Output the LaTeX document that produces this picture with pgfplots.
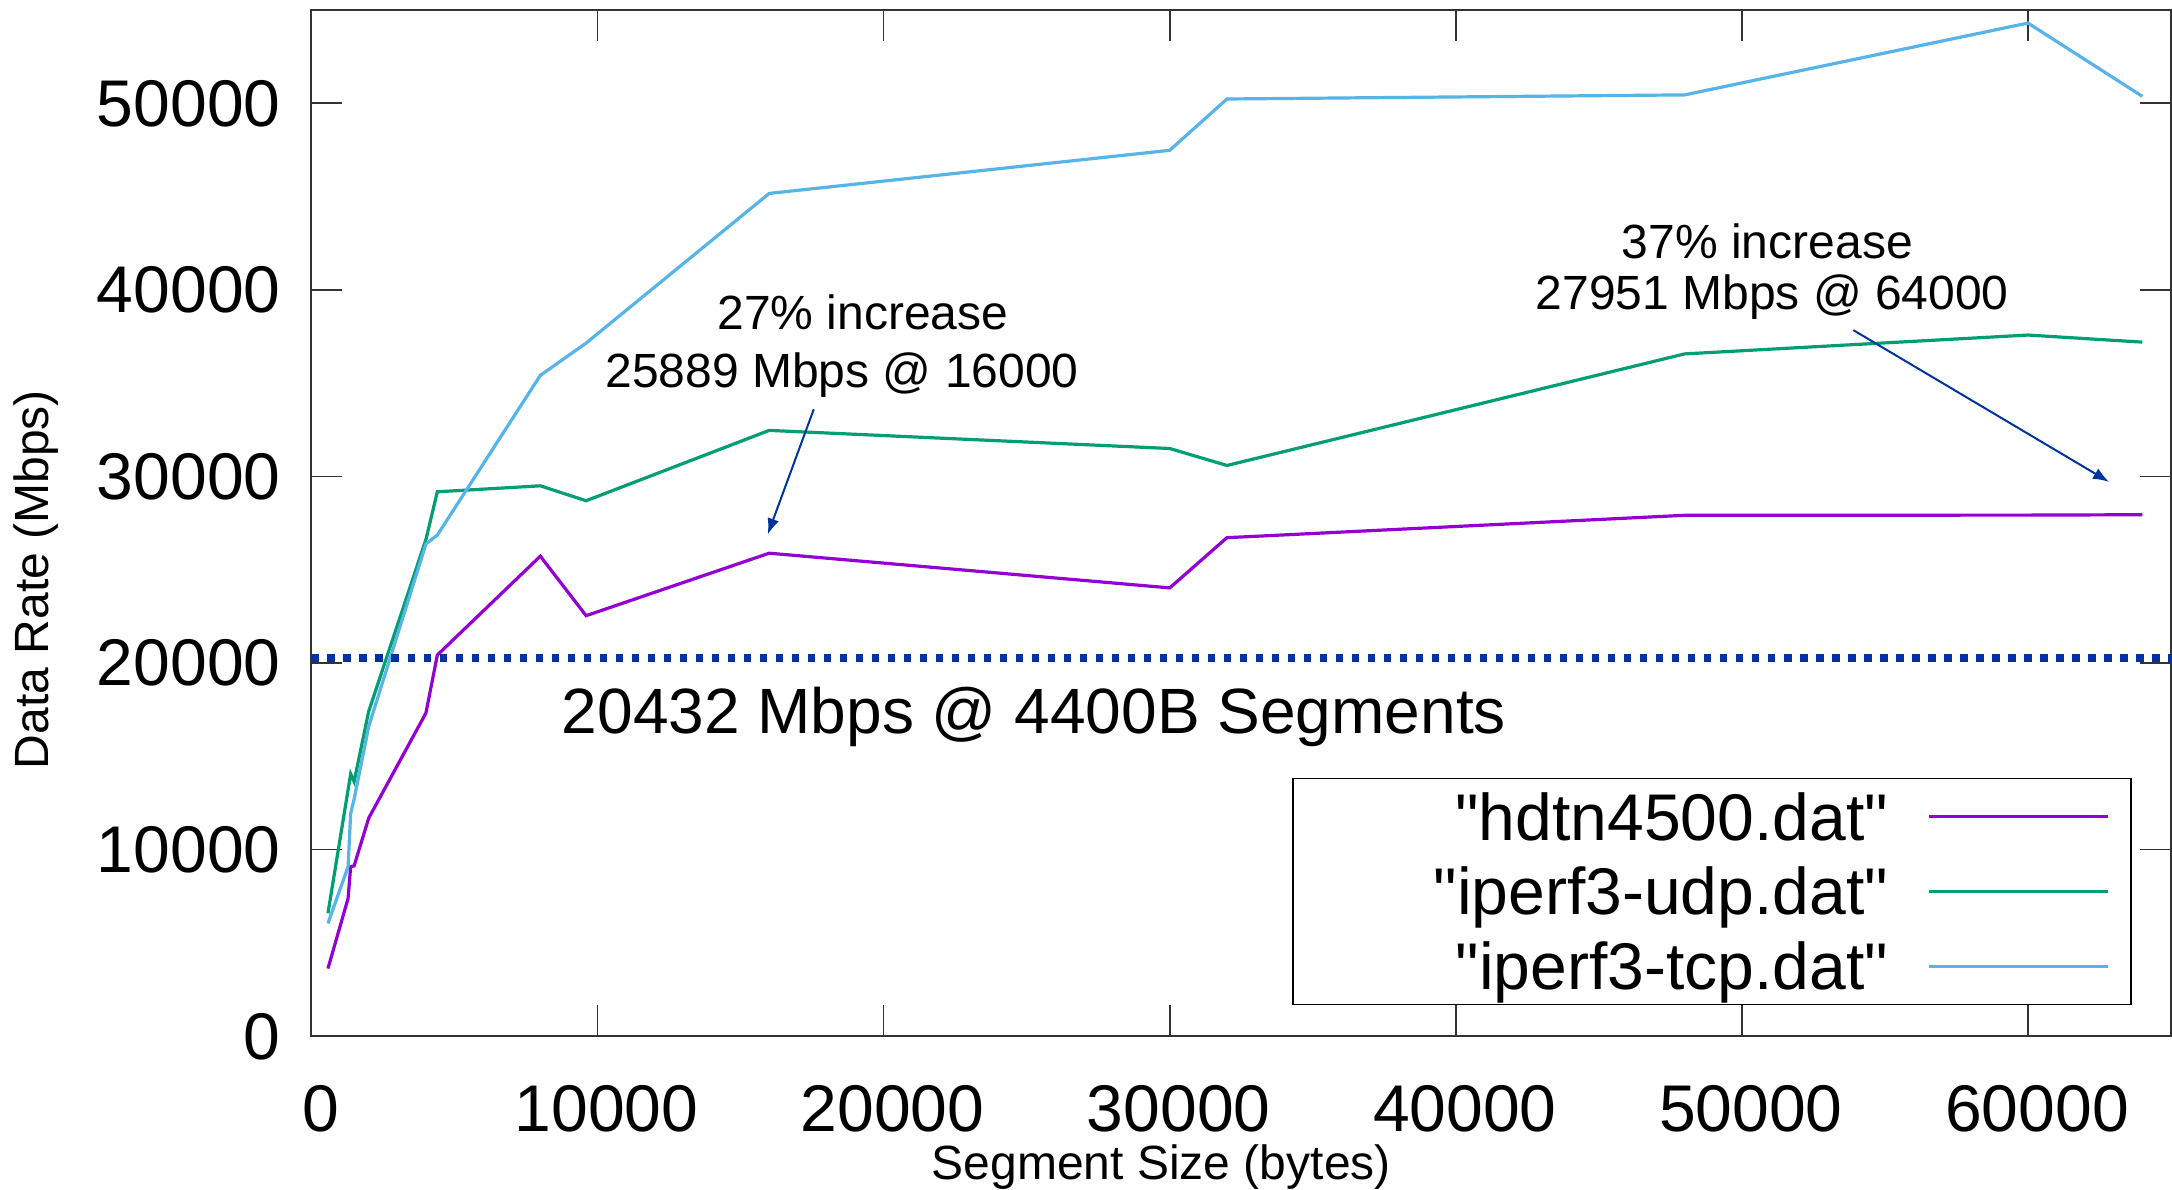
\documentclass[border=0pt]{standalone}
\usepackage{fontspec}
\setmainfont{Liberation Sans}[Ligatures=TeXOff]
\usepackage{pgfplots}
\pgfplotsset{compat=1.18}
\usetikzlibrary{arrows.meta}
\definecolor{cviolet}{HTML}{9400D3}
\definecolor{cgreen}{HTML}{009E73}
\definecolor{cblue}{HTML}{56B4E9}
\definecolor{dblue}{RGB}{0,51,160}
\begin{document}
\begin{tikzpicture}
\begin{axis}[
  scale only axis, width=464.75pt, height=256.5pt,
  xmin=0, xmax=65000, ymin=0, ymax=55000,
  xtick={0,10000,...,60000}, ytick={0,10000,...,50000},
  scaled ticks=false,
  /pgf/number format/1000 sep={},
  /pgf/number format/assume math mode=true,
  tick align=inside, tick pos=both,
  major tick length=7.75pt,
  tick style={black!80, line width=0.4pt},
  axis line style={black!80, line width=0.5pt},
  tick label style={font=\fontsize{16.5}{19.8}\selectfont},
  x tick label style={yshift=-8.75pt, xshift=2.25pt},
  y tick label style={xshift=-4.2pt},
  xlabel={Segment Size (bytes)},
  ylabel={Data Rate (Mbps)},
  label style={font=\fontsize{12}{14.4}\selectfont},
  x label style={at={(axis description cs:0.457,0)}, anchor=north, yshift=-27pt, inner sep=0pt},
  y label style={at={(axis description cs:-0.1483,0.445)}, anchor=center},
  legend plot pos=right,
  legend image code/.code={\draw[#1] (0pt,0pt) -- (44.5pt,0pt);},
  legend style={at={(axis description cs:0.979,0.0302)}, anchor=south east,
    draw=black, line width=0.4pt, font=\fontsize{16.5}{19.8}\selectfont,
    inner xsep=5.5pt, inner ysep=0.2pt, column sep=10pt, row sep=0pt,
    nodes={inner sep=0pt, text height=15.2pt, text depth=3.5pt, text width=143.25pt, align=right, anchor=west}},
]
\addplot[cviolet, line width=0.8pt] coordinates {
(576,3630) (1280,7390) (1370,9090) (1490,9130) (2000,11690) (4000,17320) (4400,20432)
(8000,25730) (9600,22540) (16000,25889) (30000,24030) (32000,26720) (48000,27920)
(60000,27930) (64000,27951)};
\addlegendentry{"hdtn4500.dat"}
\addplot[cgreen, line width=0.8pt] coordinates {
(576,6590) (1370,14060) (1490,13650) (2000,17410) (4000,26620) (4400,29180)
(8000,29500) (9600,28700) (16000,32470) (30000,31500) (32000,30590) (48000,36570)
(60000,37580) (64000,37200)};
\addlegendentry{"iperf3-udp.dat"}
\addplot[cblue, line width=0.8pt] coordinates {
(576,6050) (1280,9090) (1370,11950) (1490,12700) (2000,16600) (4000,26380) (4400,26860)
(8000,35420) (9600,37150) (16000,45170) (30000,47480) (32000,50230) (48000,50450)
(60000,54300) (64000,50370)};
\addlegendentry{"iperf3-tcp.dat"}
\addplot[forget plot, dblue, line width=2pt, dash pattern=on 1.9pt off 2.1pt] coordinates {(0,20250) (65000,20250)};
\node[anchor=base, font=\fontsize{12}{14.4}\selectfont] at (axis cs:19273,37890) {27\% increase};
\node[anchor=base, font=\fontsize{12}{14.4}\selectfont] at (axis cs:18545,34760) {25889 Mbps @ 16000};
\node[anchor=base, font=\fontsize{12}{14.4}\selectfont] at (axis cs:50890,41680) {37\% increase};
\node[anchor=base, font=\fontsize{12}{14.4}\selectfont] at (axis cs:51060,38930) {27951 Mbps @ 64000};
\node[anchor=base, font=\fontsize{16}{19.2}\selectfont] at (axis cs:25255,16245) {20432 Mbps @ 4400B Segments};
\draw[dblue, line width=0.5pt, -{Latex[length=4pt,width=3pt]}] (axis cs:17558,33604) -- (axis cs:15948,26894);
\draw[dblue, line width=0.5pt, -{Latex[length=4pt,width=3pt]}] (axis cs:53895,37844) -- (axis cs:62835,29712);
\end{axis}
\path ([yshift=2.5pt]current axis.north west);
\end{tikzpicture}
\end{document}
